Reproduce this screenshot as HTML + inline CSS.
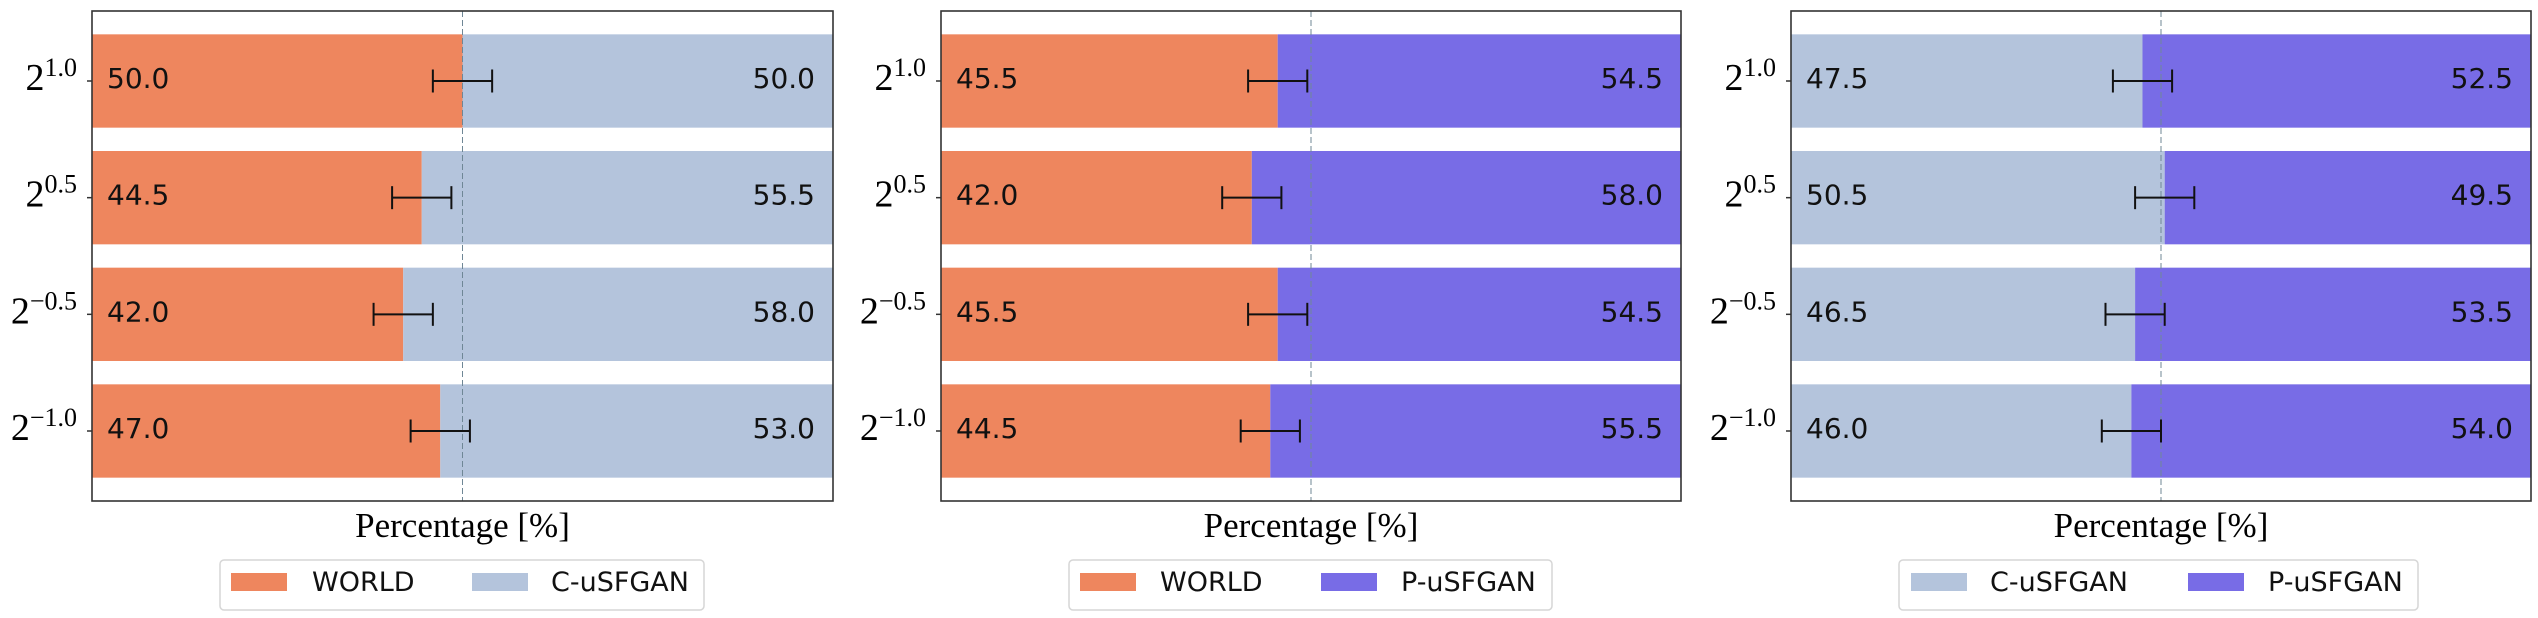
<!DOCTYPE html>
<html><head><meta charset="utf-8"><style>
body{margin:0;background:#fff}
svg{display:block}
.val{font-family:"DejaVu Sans","Liberation Sans",sans-serif;font-size:28px;fill:#111}
.tick{font-family:"Liberation Serif","DejaVu Serif",serif;fill:#000}
.xl{font-family:"Liberation Serif","DejaVu Serif",serif;font-size:35px;fill:#000}
.lg{font-family:"DejaVu Sans","Liberation Sans",sans-serif;font-size:27px;fill:#111}
</style></head><body>
<svg id="chart" width="2538" height="618" xmlns="http://www.w3.org/2000/svg"></svg>
<script>
const categories = ["1.0", "0.5", "\u22120.5", "\u22121.0"];
const leftVals1 = [50.0, 44.5, 42.0, 47.0];
const leftVals2 = [45.5, 42.0, 45.5, 44.5];
const leftVals3 = [47.5, 50.5, 46.5, 46.0];
const errVals1 = [4.0, 4.0, 4.0, 4.0];
const errVals2 = [4.0, 4.0, 4.0, 4.0];
const errVals3 = [4.0, 4.0, 4.0, 4.0];
const names1 = ["WORLD", "C-uSFGAN"];
const names2 = ["WORLD", "P-uSFGAN"];
const names3 = ["C-uSFGAN", "P-uSFGAN"];

const ORANGE = "rgb(238,134,94)", BLUE = "rgb(180,196,220)", PURPLE = "rgb(120,108,230)";
const NS = "http://www.w3.org/2000/svg";
const svg = document.getElementById("chart");
function mk(tag, attrs, parent) {
  const e = document.createElementNS(NS, tag);
  for (const k in attrs) e.setAttribute(k, attrs[k]);
  (parent || svg).appendChild(e);
  return e;
}
const panels = [
  {x0: 92, x1: 833, left: leftVals1, err: errVals1, names: names1, colors: [ORANGE, BLUE], lg: [220, 704, 231, 312, 472, 551]},
  {x0: 941, x1: 1681, left: leftVals2, err: errVals2, names: names2, colors: [ORANGE, PURPLE], lg: [1069, 1552, 1080, 1160, 1321, 1401]},
  {x0: 1791, x1: 2531, left: leftVals3, err: errVals3, names: names3, colors: [BLUE, PURPLE], lg: [1899, 2418, 1911, 1990, 2188, 2268]}
];
const yTop = 11, yBot = 501, yMin = -0.6, yMax = 3.6;
function yScale(i) { return yTop + (i - yMin) / (yMax - yMin) * (yBot - yTop); }
const unit = (yBot - yTop) / (yMax - yMin);

panels.forEach((p, pi) => {
  const g = mk("g", {});
  
  
  const xs = v => p.x0 + v / 100 * (p.x1 - p.x0);
  categories.forEach((c, i) => {
    const cy = yScale(i), h = 0.8 * unit;
    const v = p.left[i];
    const b1 = mk("rect", {x: xs(0), y: cy - h/2, width: xs(v) - xs(0), height: h, fill: p.colors[0]}, g);
    
    
    const b2 = mk("rect", {x: xs(v), y: cy - h/2, width: xs(100) - xs(v), height: h, fill: p.colors[1]}, g);
    
    
    const t1 = mk("text", {x: xs(0) + 15, y: cy + 7, class: "val"}, g);
    t1.textContent = v.toFixed(1);
    
    
    const t2 = mk("text", {x: xs(100) - 18, y: cy + 7, class: "val", "text-anchor": "end"}, g);
    t2.textContent = (100 - v).toFixed(1);
    
    
    mk("line", {x1: p.x0 - 5, x2: p.x0, y1: cy, y2: cy, stroke: "#333", "stroke-width": 1.5}, g);
    const tl = mk("text", {x: p.x0 - 15, y: cy + 9, class: "tick", "text-anchor": "end"}, g);
    
    
    const s1 = mk("tspan", {"font-size": 38}, tl); s1.textContent = "2";
    const s2 = mk("tspan", {"font-size": 26, dy: -14}, tl); s2.textContent = c;
  });
  const dl = mk("line", {x1: xs(50), x2: xs(50), y1: yTop, y2: yBot, stroke: "#6f8796", "stroke-width": 1, "stroke-dasharray": "6,3"}, g);
  
  
  categories.forEach((c, i) => {
    const cy = yScale(i), v = p.left[i], e = p.err[i];
    const eg = mk("g", {stroke: "#111", "stroke-width": 2}, g);
    
    
    mk("line", {x1: xs(v - e), x2: xs(v + e), y1: cy, y2: cy}, eg);
    mk("line", {x1: xs(v - e), x2: xs(v - e), y1: cy - 11.5, y2: cy + 11.5}, eg);
    mk("line", {x1: xs(v + e), x2: xs(v + e), y1: cy - 11.5, y2: cy + 11.5}, eg);
  });
  const fr = mk("rect", {x: p.x0, y: yTop, width: p.x1 - p.x0, height: yBot - yTop, fill: "none", stroke: "#333", "stroke-width": 1.6}, g);
  
  
  const xl = mk("text", {x: (p.x0 + p.x1) / 2, y: 537, class: "xl", "text-anchor": "middle"}, g);
  xl.textContent = "Percentage [%]";
  
  
  const L = p.lg;
  const lg = mk("g", {}, g);
  
  
  mk("rect", {x: L[0], y: 560, width: L[1] - L[0], height: 50, rx: 4, fill: "#fff", stroke: "#d6d6d6", "stroke-width": 1.5}, lg);
  [0, 1].forEach(k => {
    const pr = mk("rect", {x: L[2 + k*2], y: 573, width: 56, height: 18, fill: p.colors[k]}, lg);
    
    
    const lt = mk("text", {x: L[3 + k*2], y: 591, class: "lg"}, lg);
    lt.textContent = p.names[k];
    
    
  });
});
</script>
</body></html>
